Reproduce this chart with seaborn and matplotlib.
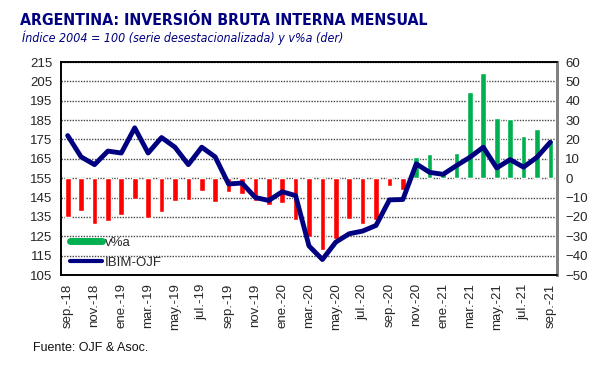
import numpy as np
import pandas as pd
import matplotlib
matplotlib.use("Agg")
import matplotlib.pyplot as plt
from matplotlib.lines import Line2D
import seaborn as sns

# meses sep-18 .. sep-21
months = ["sep.-18", "oct.-18", "nov.-18", "dic.-18",
          "ene.-19", "feb.-19", "mar.-19", "abr.-19", "may.-19", "jun.-19",
          "jul.-19", "ago.-19", "sep.-19", "oct.-19", "nov.-19", "dic.-19",
          "ene.-20", "feb.-20", "mar.-20", "abr.-20", "may.-20", "jun.-20",
          "jul.-20", "ago.-20", "sep.-20", "oct.-20", "nov.-20", "dic.-20",
          "ene.-21", "feb.-21", "mar.-21", "abr.-21", "may.-21", "jun.-21",
          "jul.-21", "ago.-21", "sep.-21"]

# variacion anual (eje derecho)
var_anual = [-20.1, -17.2, -23.9, -22.0, -19.2, -10.7, -20.4, -17.4, -11.9, -11.3,
             -6.5, -12.4, -6.9, -8.2, -11.9, -14.1, -12.7, -21.5, -30.4, -37.3,
             -31.6, -21.0, -23.5, -21.8, -3.8, -6.0, 10.8, 12.5, 3.6, 12.9,
             44.3, 54.3, 31.1, 30.6, 22.0, 25.4, 19.9]

# IBIM-OJF indice 2004=100 (eje izquierdo)
ibim = [177, 166, 162, 169, 168, 181, 168, 176, 171, 162,
        171, 166, 152, 152.5, 145, 143.5, 148, 146, 120, 113,
        122, 126.3, 127.7, 130.6, 143.8, 144, 162.4, 158, 157, 161.5,
        165.8, 171, 160.3, 164.6, 160.7, 165.8, 173.6]

df = pd.DataFrame({"mes": months, "var": var_anual, "ibim": ibim})
df["pos"] = np.arange(len(df))
df["signo"] = np.where(df["var"] >= 0, "pos", "neg")

sns.set_style("white")
plt.rcParams["font.family"] = ["Liberation Sans", "DejaVu Sans"]

navy = "#000080"
fig = plt.figure(figsize=(6.05, 3.68), dpi=100)
ax = fig.add_axes([0.1008, 0.2527, 0.8199, 0.5788])

# barras en el eje principal (escala derecha)
sns.barplot(data=df, x="pos", y="var", hue="signo",
            palette={"pos": "#00B050", "neg": "#FF0000"},
            width=0.42, dodge=False, legend=False, ax=ax, saturation=1)

ax2 = ax.twinx()
sns.lineplot(data=df, x="pos", y="ibim", color=navy, lw=3.5,
             ax=ax2, solid_joinstyle="round", solid_capstyle="round")

ax.set_ylim(-50, 60)
ax.set_yticks(range(-50, 61, 10))
ax.set_xlim(-0.5, len(df) - 0.5)
ax2.set_ylim(105, 215)
ax2.set_yticks(range(105, 216, 10))

# escala izquierda = indice, derecha = v%a
ax.yaxis.tick_right()
ax2.yaxis.tick_left()

for a in (ax, ax2):
    a.set_xlabel("")
    a.set_ylabel("")
    a.tick_params(axis="both", length=0, labelsize=9.5, pad=6)

ax.grid(axis="y", color="#444444", linestyle=(0, (1, 1)), lw=1)
ax.set_axisbelow(True)
ax.set_xticks(df["pos"][::2])
ax.set_xticklabels(df["mes"][::2], rotation=90)

for a in (ax, ax2):
    for s in ["left", "top", "bottom"]:
        a.spines[s].set_color("black")
        a.spines[s].set_linewidth(1.2)
    a.spines["right"].set_color("#808080")
    a.spines["right"].set_linewidth(2)

handles = [Line2D([0], [0], color="#00B050", lw=5),
           Line2D([0], [0], color=navy, lw=3)]
ax2.legend(handles, ["v%a", "IBIM-OJF"], loc="lower left",
           bbox_to_anchor=(0.0, -0.015), frameon=False, fontsize=9.5,
           handlelength=2.4, handletextpad=0.2, borderaxespad=0.3,
           labelspacing=0.6)

fig.text(0.033, 0.945, "ARGENTINA: INVERSIÓN BRUTA INTERNA MENSUAL",
         fontsize=11.4, fontweight="bold", color=navy, va="center",
         family="DejaVu Sans", fontstretch="condensed")
fig.text(0.036, 0.898, "Índice 2004 = 100 (serie desestacionalizada) y v%a (der)",
         fontsize=8.9, style="italic", color=navy, va="center",
         family="DejaVu Sans", fontstretch="condensed")
fig.text(0.055, 0.055, "Fuente: OJF & Asoc.", fontsize=9, color="#111111",
         va="center")

fig.savefig("out.png", dpi=100)
